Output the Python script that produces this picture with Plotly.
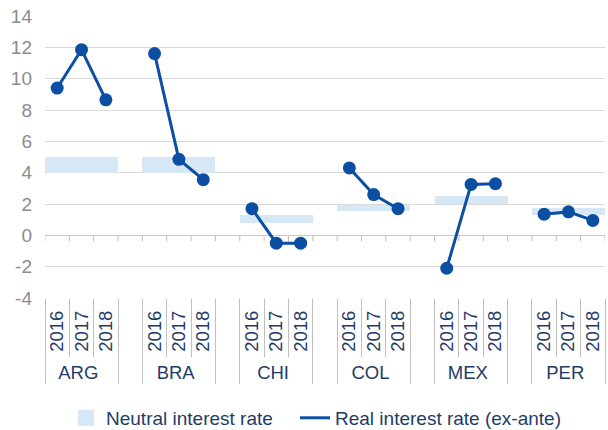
import plotly.graph_objects as go

countries = ["ARG", "BRA", "CHI", "COL", "MEX", "PER"]
years = ["2016", "2017", "2018"]
real_rate = [
    [9.4, 11.85, 8.65],
    [11.6, 4.85, 3.55],
    [1.7, -0.5, -0.5],
    [4.3, 2.6, 1.7],
    [-2.1, 3.25, 3.3],
    [1.35, 1.5, 0.95],
]
neutral_low = [4.0, 4.0, 0.8, 1.55, 2.0, 1.3]
neutral_high = [5.0, 5.0, 1.3, 1.95, 2.5, 1.75]
y_ticks = [-4, -2, 0, 2, 4, 6, 8, 10, 12, 14]
y_tick_labels = ["-4", "-2", "0", "2", "4", "6", "8", "10", "12", "14"]

LINE = "#0b4ea2"
BAND = "#d6e7f6"
NAVY = "#1f3c68"
GRID = "#d9d9d9"
FONT = "Liberation Sans, Arial, sans-serif"

grp, yr, yv, nb, nh = [], [], [], [], []
for i, c in enumerate(countries):
    for j, y in enumerate(years):
        grp.append(c)
        yr.append(y)
        yv.append(real_rate[i][j])
        nb.append(neutral_low[i])
        nh.append(neutral_high[i] - neutral_low[i])
    if i < len(countries) - 1:
        grp.append(" " * (i + 1))
        yr.append("")
        yv.append(None)
        nb.append(None)
        nh.append(None)
n = len(grp)

fig = go.Figure()
fig.add_trace(go.Bar(
    x=[grp, yr], y=nh, base=nb, marker=dict(color=BAND, line=dict(width=0)),
    name="Neutral interest rate", showlegend=False,
))
fig.add_trace(go.Scatter(
    x=[grp, yr], y=yv, mode="lines+markers",
    line=dict(color=LINE, width=3), marker=dict(color=LINE, size=13),
    connectgaps=False, showlegend=False, name="Real interest rate (ex-ante)",
))
# legend-only entries
fig.add_trace(go.Scatter(
    x=[[grp[0]], [yr[0]]], y=[None], mode="markers",
    marker=dict(symbol="square", color=BAND, size=16),
    name="Neutral interest rate", legend="legend",
))
fig.add_trace(go.Scatter(
    x=[[grp[0]], [yr[0]]], y=[None], mode="lines",
    line=dict(color=LINE, width=3),
    name="Real interest rate (ex-ante)", legend="legend2",
))

# tick marks on the zero line at every category boundary
for k in range(n + 1):
    fig.add_shape(type="line", xref="x", yref="y", x0=k - 0.5, x1=k - 0.5,
                  ysizemode="pixel", yanchor=0, y0=0, y1=-6,
                  line=dict(color="#bfbfbf", width=1), layer="below")

leg_common = dict(orientation="h", xanchor="left", yanchor="middle",
                  xref="container", yref="container", y=0.028,
                  font=dict(size=19, color=NAVY), itemsizing="trace",
                  bgcolor="rgba(0,0,0,0)")
fig.update_layout(
    width=608, height=430,
    margin=dict(l=45, r=3, t=16, b=132, autoexpand=False),
    paper_bgcolor="white", plot_bgcolor="white",
    bargap=0,
    font=dict(family=FONT, size=19, color=NAVY),
    showlegend=True,
    legend=dict(x=66 / 608, **leg_common),
    legend2=dict(x=295 / 608, **leg_common),
)
fig.update_yaxes(
    range=[-4, 14], tickvals=y_ticks, ticktext=y_tick_labels,
    showgrid=True, gridcolor=GRID, gridwidth=1,
    zeroline=True, zerolinecolor="#c8c8c8", zerolinewidth=1,
    tickfont=dict(color="#8c8c8c", size=19), showline=False, ticks="",
    ticklabelstandoff=12, automargin=False,
)
fig.update_xaxes(
    type="multicategory", range=[-0.5, n - 0.5], showgrid=False, showline=False,
    ticks="outside", tickson="boundaries", ticklen=58, tickcolor="#bfbfbf",
    dividercolor="#bfbfbf", dividerwidth=1, automargin=False,
    ticklabelstandoff=8,
    tickangle=-90, tickfont=dict(color=NAVY, size=18.5),
)

fig.write_html(
    "out.html",
    config={"displayModeBar": False},
    post_script="document.body.style.margin='0';document.body.style.overflow='hidden';",
)
